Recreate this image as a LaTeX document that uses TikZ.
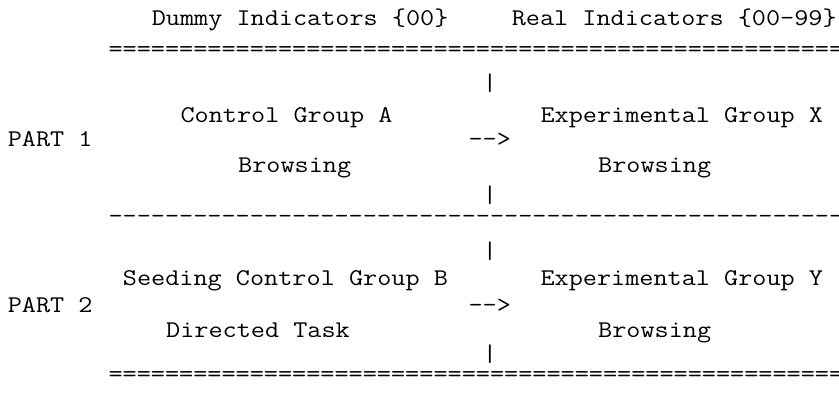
\documentclass[tikz,border=0pt]{standalone}
\usepackage{fontspec}
\setmonofont{Latin Modern Mono}
\usepackage{graphicx}
\usepackage{tikz}
\tikzstyle{ascii} = [font=\ttfamily\fontsize{18}{18}\selectfont,
    inner sep=0pt, anchor=base west]
\newcommand{\wide}[1]{\scalebox{1.143}[1]{#1}}
\def\cw{14.4}
\def\xo{7.5}

\begin{document}
\begin{tikzpicture}[x=0.75pt, y=-0.75pt]
  \useasboundingbox (0,0) rectangle (839,409);
    % Header
    \node [ascii] (dummyInd) at ({\xo+10*\cw},26) {\wide{Dummy Indicators \{00\}}};
    \node [ascii] (realInd) at ({\xo+35*\cw},26) {\wide{Real Indicators \{00-99\}}};
    \node [ascii] (ruleTop) at ({\xo+7*\cw},57) {\wide{====================================================}};

    % Part 1
    \node [ascii] (barA) at ({\xo+33*\cw},91) {\wide{|}};
    \node [ascii] (groupA) at ({\xo+12*\cw},123) {\wide{Control Group A}};
    \node [ascii] (groupX) at ({\xo+37*\cw},123) {\wide{Experimental Group X}};
    \node [ascii] (partOne) at ({\xo+0*\cw},147) {\wide{PART 1}};
    \node [ascii] (arrowOne) at ({\xo+32*\cw},147) {\wide{-->}};
    \node [ascii] (taskA) at ({\xo+16*\cw},173) {\wide{Browsing}};
    \node [ascii] (taskX) at ({\xo+41*\cw},173) {\wide{Browsing}};
    \node [ascii] (barB) at ({\xo+33*\cw},203) {\wide{|}};
    \node [ascii] (ruleMid) at ({\xo+7*\cw},224) {\wide{----------------------------------------------------}};

    % Part 2
    \node [ascii] (barC) at ({\xo+33*\cw},259) {\wide{|}};
    \node [ascii] (groupB) at ({\xo+8*\cw},286) {\wide{Seeding Control Group B}};
    \node [ascii] (groupY) at ({\xo+37*\cw},286) {\wide{Experimental Group Y}};
    \node [ascii] (partTwo) at ({\xo+0*\cw},313) {\wide{PART 2}};
    \node [ascii] (arrowTwo) at ({\xo+32*\cw},313) {\wide{-->}};
    \node [ascii] (taskB) at ({\xo+11*\cw},338) {\wide{Directed Task}};
    \node [ascii] (taskY) at ({\xo+41*\cw},338) {\wide{Browsing}};
    \node [ascii] (barD) at ({\xo+33*\cw},362) {\wide{|}};
    \node [ascii] (ruleBot) at ({\xo+7*\cw},382) {\wide{====================================================}};
\end{tikzpicture}
\end{document}
